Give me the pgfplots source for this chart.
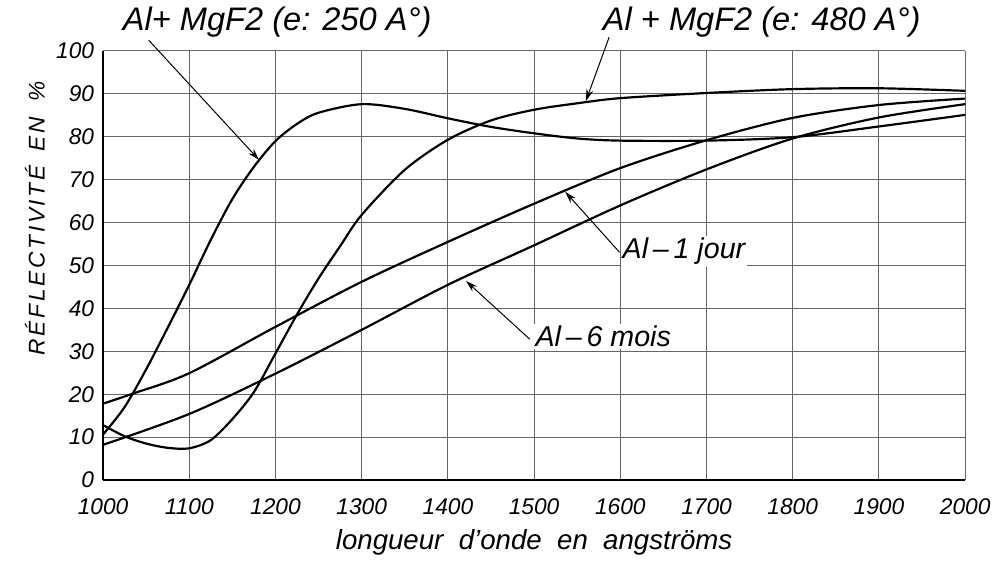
\documentclass[border=0pt]{standalone}
\usepackage{pgfplots}
\pgfplotsset{compat=1.18}
\usepackage{fontspec}
\setmainfont{Liberation Sans}
\usetikzlibrary{arrows.meta}
\begin{document}
\begin{tikzpicture}
\begin{axis}[
  scale only axis, width=435bp, height=216.5bp,
  xmin=1000, xmax=2000, ymin=0, ymax=100,
  xtick={1000,1100,...,2000}, ytick={0,10,...,100},
  grid=major, major grid style={black!60, line width=0.5bp},
  axis x line=bottom, axis y line=left,
  axis line style={-, line width=1.3bp},
  major tick length=0pt,
  /pgf/number format/assume math mode=true,
  /pgf/number format/set thousands separator={},
  xticklabel style={font=\itshape\fontsize{11.5}{13}\selectfont, yshift=-6bp},
  yticklabel style={font=\itshape\fontsize{11.5}{13}\selectfont, xshift=-1bp},
  xlabel={\itshape longueur\ \ d'onde\ \ en\ \ angströms},
  xlabel style={font=\fontsize{14}{16}\selectfont, at={(axis description cs:0.5,-0.145)}, anchor=center},
  ylabel={\itshape\addfontfeature{LetterSpace=12}RÉFLECTIVITÉ\hspace{7bp}EN\hspace{8bp}\%},
  ylabel style={font=\fontsize{11.5}{13}\selectfont, at={(axis description cs:-0.079,0.61)}, anchor=center},
  clip=false,
]
% Al + MgF2 (e: 250 A)
\addplot[black, line width=1.1bp, smooth] coordinates {
(1000,10.6) (1025,17) (1050,25.8) (1075,35.5) (1100,45.5) (1125,56) (1150,65.5)
(1175,73) (1200,79) (1225,83) (1250,85.6) (1300,87.6) (1350,86.5) (1400,84.3)
(1450,82.3) (1500,80.8) (1550,79.6) (1600,79.1) (1700,79.1) (1800,79.9) (1900,82.4) (2000,85.1)};
% Al + MgF2 (e: 480 A)
\addplot[black, line width=1.1bp, smooth] coordinates {
(1000,12.8) (1025,10.2) (1050,8.5) (1075,7.5) (1100,7.4) (1125,9.3) (1150,14.2)
(1175,20.5) (1200,29.5) (1225,38.6) (1250,47) (1275,54.5) (1300,61.8) (1350,72.3)
(1400,79.3) (1450,83.8) (1500,86.3) (1550,87.8) (1600,89) (1700,90.2) (1800,91.1)
(1900,91.3) (2000,90.7)};
% Al - 1 jour
\addplot[black, line width=1.1bp, smooth] coordinates {
(1000,17.8) (1034,20.1) (1100,24.9) (1200,35.7) (1300,46.2) (1400,55.5) (1500,64.4)
(1600,72.7) (1700,79.2) (1800,84.4) (1900,87.4) (2000,88.9)};
% Al - 6 mois
\addplot[black, line width=1.1bp, smooth] coordinates {
(1000,8.2) (1100,15.4) (1200,24.8) (1300,35) (1400,45.5) (1500,54.7) (1600,64)
(1700,72.4) (1800,79.6) (1900,84.5) (2000,87.6)};

\draw[-{Stealth[length=6bp,width=3.5bp]}, line width=0.5bp] (axis cs:1053,102.5) -- (axis cs:1181,74.6);
\draw[-{Stealth[length=6bp,width=3.5bp]}, line width=0.5bp] (axis cs:1587,103.2) -- (axis cs:1560,88.3);
\draw[-{Stealth[length=6bp,width=3.5bp]}, line width=0.5bp] (axis cs:1599,53.1) -- (axis cs:1536,67.2);
\draw[-{Stealth[length=6bp,width=3.5bp]}, line width=0.5bp] (axis cs:1495,32.8) -- (axis cs:1421,46.4);

\node[font=\itshape\fontsize{16.5}{18}\selectfont, anchor=center] at (axis cs:1202,106.8) {Al+ MgF2 (e: 250 A°)};
\node[font=\itshape\fontsize{16.5}{18}\selectfont, anchor=center] at (axis cs:1764,106.8) {Al + MgF2 (e: 480 A°)};
\node[font=\itshape\fontsize{14.5}{16}\selectfont, anchor=west, fill=white, inner sep=1bp] at (axis cs:1600,53.3) {Al\,–\,1 jour};
\node[font=\itshape\fontsize{14.5}{16}\selectfont, anchor=west, fill=white, inner sep=1bp] at (axis cs:1499,33.5) {Al\,–\,6 mois};
\end{axis}
\path[use as bounding box] (-52bp,-38.5bp) rectangle (446.5bp,241bp);
\end{tikzpicture}
\end{document}
